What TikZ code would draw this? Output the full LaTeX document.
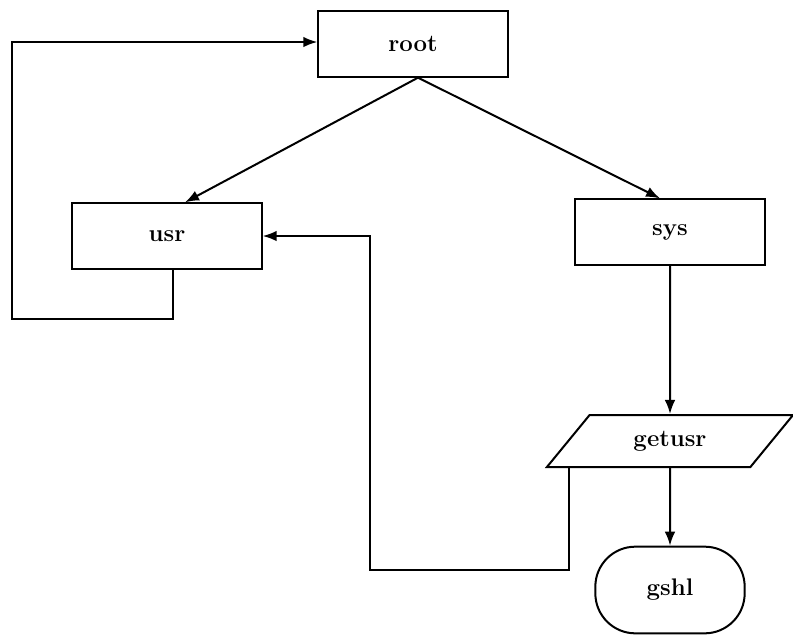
\documentclass[tikz,border=0pt]{standalone}
\usepackage{fontspec}
\usetikzlibrary{arrows.meta,calc,positioning,shapes.geometric}
\tikzset{
  flow/.style={
    -{Latex[length=10.5pt,width=8pt]},
    draw=black,
    line width=1.5pt
  },
  block/.style={
    rectangle,
    draw=black,
    line width=1.5pt,
    fill=white,
    minimum width=142pt,
    minimum height=49pt,
    inner sep=0pt,
    font=\fontsize{18}{21}\selectfont\bfseries
  },
  io_block/.style={
    block,
    trapezium,
    trapezium left angle=46,
    trapezium right angle=134,
    trapezium stretches=true,
    minimum width=185pt,
    minimum height=39pt
  },
  term_block/.style={
    block,
    rounded corners=30pt,
    minimum width=112pt,
    minimum height=65pt
  }
}

\begin{document}
\begin{tikzpicture}[x=0.75pt,y=-0.75pt]

  % frame of the page
  \useasboundingbox (0,0) rectangle (793,636);

  % ============================================================
  % Blocks
  % ============================================================
  \node[block] (root) at (413,44) {root};
  \node[block] (usr) at (167,236) {usr};
  \node[block] (sys) at (670,232) {sys};
  \node[io_block] (getusr) at (670,441) {getusr};
  \node[term_block] (gshl) at (670,590) {gshl};

  % bends of the two return lines
  \coordinate (usr_loop) at (12,319);
  \coordinate (get_loop) at (370,570);

  % ============================================================
  % Connectors
  % ============================================================
  \draw[flow] ($(root.south)+(5,0)$) -- ($(usr.north)+(18,0)$);
  \draw[flow] ($(root.south)+(5,0)$) -- ($(sys.north)+(-10,0)$);
  \draw[flow] (sys) -- (getusr);
  \draw[flow] (getusr) -- (gshl);

  % usr goes back up to root
  \draw[flow] ($(usr.south)+(6,0)$) |- (usr_loop) |- ($(root.west)+(0,-2)$);

  % getusr goes back to usr
  \draw[flow] ($(getusr.bottom left corner)+(24,0)$) |- (get_loop) |- (usr.east);

\end{tikzpicture}
\end{document}
